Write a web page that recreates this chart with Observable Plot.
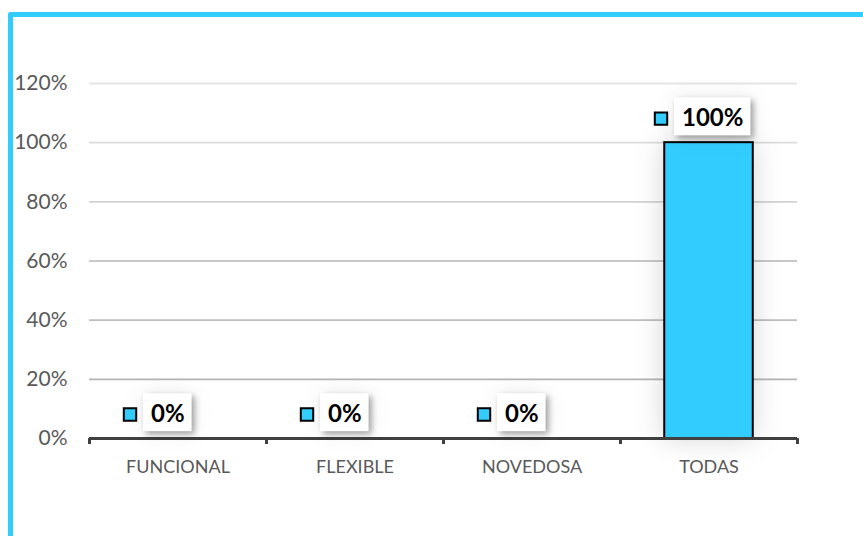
<!DOCTYPE html>
<html>
<head>
<meta charset="utf-8">
<script src="https://cdn.jsdelivr.net/npm/d3@7"></script>
<script src="https://cdn.jsdelivr.net/npm/@observablehq/plot@0.6"></script>
<style>
  html, body { margin: 0; padding: 0; background: #fff; }
  #wrap { position: relative; width: 863px; height: 536px; overflow: hidden; font-family: Lato, "Open Sans", sans-serif; }
  #frame { position: absolute; left: 8px; top: 12px; width: 860px; height: 540px;
           border-left: 5px solid #33CCFF; border-top: 5px solid #33CCFF; border-top-left-radius: 3px; box-sizing: border-box; }
  #chart { position: absolute; left: 0; top: 0; }
  .bar rect { filter: drop-shadow(0px 0px 14px rgba(0,0,0,0.16)); }
  .lblbox { fill: #fff; filter: drop-shadow(3px 3px 3px rgba(0,0,0,0.35)) drop-shadow(0px 0px 10px rgba(0,0,0,0.08)); }
</style>
</head>
<body>
<div id="wrap"><div id="frame"></div><div id="chart"></div></div>
<script>
const categories = ["FUNCIONAL", "FLEXIBLE", "NOVEDOSA", "TODAS"];
const values = [0, 0, 0, 1.0];
const yTicks = [0, 0.2, 0.4, 0.6, 0.8, 1.0, 1.2];

const data = categories.map((c, i) => ({cat: c, i, value: values[i]}));
const bounds = d3.range(categories.length + 1);
const mids = categories.map((c, i) => i + 0.5);
const pct = d3.format(".0%");
const cyan = "#33CCFF";
const gridShade = d3.scaleLinear().domain([0.2, 1.2]).range(["#b4b4b4", "#e6e6e6"]);

const chart = Plot.plot({
  width: 863,
  height: 536,
  marginLeft: 89,
  marginRight: 66,
  marginTop: 83,
  marginBottom: 98,
  style: {fontFamily: "Lato, 'Open Sans', sans-serif", background: "transparent", overflow: "visible"},
  x: {type: "linear", domain: [0, categories.length]},
  y: {domain: [0, 1.2]},
  color: {type: "identity"},
  marks: [
    Plot.ruleY(yTicks.filter(d => d > 0), {y: d => d, stroke: d => gridShade(d), strokeWidth: 1.8}),
    Plot.axisY(yTicks, {tickFormat: pct, tickSize: 0, tickPadding: 22, fontSize: 21, color: "#595959", label: null}),
    Plot.rectY(data.filter(d => d.value > 0), {x1: d => d.i, x2: d => d.i + 1, y: "value", insetLeft: 44.25, insetRight: 44.25,
      fill: cyan, stroke: "#000", strokeWidth: 2, className: "bar"}),
    Plot.ruleY([0], {stroke: "#404040", strokeWidth: 3}),
    Plot.axisX(bounds, {tickFormat: () => "", tickSize: 6, stroke: "#404040", strokeWidth: 3, label: null}),
    Plot.text(mids, {x: d => d, y: 0, text: d => categories[Math.floor(d)], dy: 29, fontSize: 18, fill: "#595959"}),
    Plot.text(data, {x: d => d.i + 0.5, y: "value", text: d => pct(d.value), dx: -27, dy: -24, textAnchor: "start",
      fontWeight: "bold", fontSize: 24, fill: "#000", className: "lbl"}),
    Plot.dot(data, {x: d => d.i + 0.5, y: "value", dx: -48, dy: -24, symbol: "square", r: 7, fill: cyan, stroke: "#000", strokeWidth: 2})
  ]
});
document.getElementById("chart").appendChild(chart);

// white boxes behind data labels
d3.select(chart).selectAll("g.lbl text").each(function() {
  const b = this.getBBox();
  const t = this.getAttribute("transform");
  const r = d3.select(this.parentNode).insert("rect", () => this)
    .attr("class", "lblbox")
    .attr("x", b.x - 8).attr("y", b.y - 5)
    .attr("width", b.width + 15).attr("height", b.height + 9);
  if (t) r.attr("transform", t);
});
</script>
</body>
</html>
